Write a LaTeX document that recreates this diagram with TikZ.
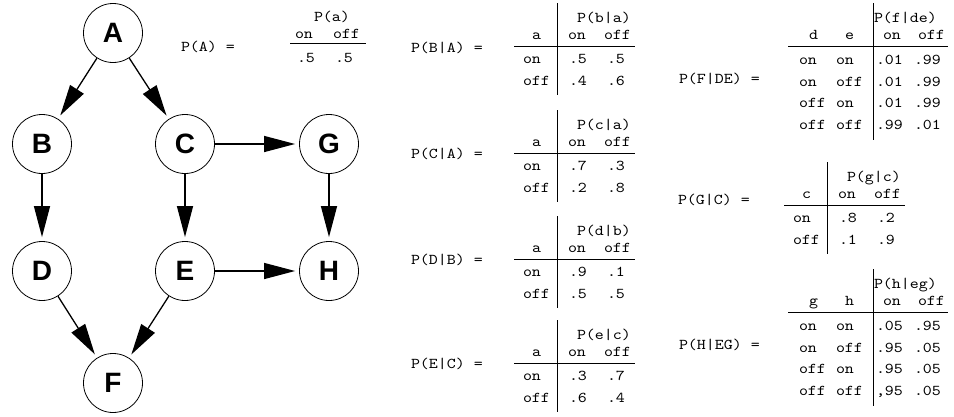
\documentclass[tikz,border=0pt]{standalone}
\usepackage{fontspec}
\setmonofont{lmmono10-regular}[Extension=.otf, FakeStretch=1.14]
\newfontfamily\nodefont{Liberation Sans}
\usetikzlibrary{arrows.meta}
\tikzset{
  bn/.style={circle, draw, line width=0.8pt, minimum size=59pt, inner sep=0pt,
    font=\nodefont\bfseries\fontsize{28}{28}\selectfont},
  edge/.style={line width=1.3pt, -{Triangle[length=31pt,width=16pt]}, shorten >=4pt},
  tt/.style={anchor=base west, inner sep=0pt, outer sep=0pt,
    font=\ttfamily\fontsize{15}{16}\selectfont},
  rulel/.style={line width=1pt}
}
% two-column table frame: id, X, Y, header, parent var
\newcommand\cpttwo[5]{%
  \node[tt] (#1-hd) at (#2+20,#3-24) {#4};
  \node[tt] (#1-pv) at (#2-25,#3-7) {#5};
  \node[tt] (#1-on) at (#2+11,#3-7) {on};
  \node[tt] (#1-off) at (#2+47,#3-7) {off};
  \draw[rulel] (#2-43,#3) -- (#2+78,#3);
  \draw[rulel] (#2,#3-43) -- (#2,#3+49);
}
% row: id, X, Y, dy, label, v1, v2
\newcommand\cptrow[7]{%
  \node[tt] (#1-l#4) at (#2-34,#3+#4) {#5};
  \node[tt] (#1-a#4) at (#2+12,#3+#4) {#6};
  \node[tt] (#1-b#4) at (#2+50,#3+#4) {#7};
}
% four-column table frame: id, X, Y, header, var1, var2
\newcommand\cptfour[6]{%
  \node[tt] (#1-hd) at (#2+1,#3-24) {#4};
  \node[tt] (#1-pv) at (#2-64,#3-7) {#5};
  \node[tt] (#1-pw) at (#2-28,#3-7) {#6};
  \node[tt] (#1-on) at (#2+10,#3-7) {on};
  \node[tt] (#1-off) at (#2+45,#3-7) {off};
  \draw[rulel] (#2-85,#3) -- (#2+75,#3);
  \draw[rulel] (#2,#3-43) -- (#2,#3+94);
}
% row: id, X, Y, dy, c1, c2, v1, v2
\newcommand\cptfrow[8]{%
  \node[tt] (#1-l#4) at (#2-74,#3+#4) {#5};
  \node[tt] (#1-m#4) at (#2-37,#3+#4) {#6};
  \node[tt] (#1-a#4) at (#2+3,#3+#4) {#7};
  \node[tt] (#1-b#4) at (#2+41,#3+#4) {#8};
}
\begin{document}
\begin{tikzpicture}[x=1pt,y=-1pt]
\useasboundingbox (0,0) rectangle (954,416);
% network
\node[bn] (A) at (113,33) {A};
\node[bn] (B) at (42,144) {B};
\node[bn] (C) at (185,144) {C};
\node[bn] (G) at (329,144) {G};
\node[bn] (D) at (42,271) {D};
\node[bn] (E) at (185,271) {E};
\node[bn] (H) at (329,271) {H};
\node[bn] (F) at (113,383) {F};
\draw[edge] (A) -- (B);
\draw[edge] (A) -- (C);
\draw[edge] (C) -- (G);
\draw[edge] (B) -- (D);
\draw[edge] (C) -- (E);
\draw[edge] (G) -- (H);
\draw[edge] (E) -- (H);
\draw[edge] (D) -- (F);
\draw[edge] (E) -- (F);
% P(A)
\node[tt] (pA-lab) at (181,51) {P(A) =};
\node[tt] (pA-hd) at (314,21) {P(a)};
\node[tt] (pA-on) at (295,38) {on};
\node[tt] (pA-off) at (333,38) {off};
\draw[rulel] (290,43) -- (366,43);
\node[tt] (pA-a) at (297,62) {.5};
\node[tt] (pA-b) at (335,62) {.5};
% P(B|A)
\node[tt] (pB-lab) at (411,52) {P(B|A) =};
\cpttwo{pB}{557}{46}{P(b|a)}{a}
\cptrow{pB}{557}{46}{17}{on}{.5}{.5}
\cptrow{pB}{557}{46}{39}{off}{.4}{.6}
% P(C|A)
\node[tt] (pC-lab) at (411,158) {P(C|A) =};
\cpttwo{pC}{557}{153}{P(c|a)}{a}
\cptrow{pC}{557}{153}{17}{on}{.7}{.3}
\cptrow{pC}{557}{153}{39}{off}{.2}{.8}
% P(D|B)
\node[tt] (pD-lab) at (411,264) {P(D|B) =};
\cpttwo{pD}{557}{259}{P(d|b)}{a}
\cptrow{pD}{557}{259}{17}{on}{.9}{.1}
\cptrow{pD}{557}{259}{39}{off}{.5}{.5}
% P(E|C)
\node[tt] (pE-lab) at (411,368) {P(E|C) =};
\cpttwo{pE}{557}{363}{P(e|c)}{a}
\cptrow{pE}{557}{363}{17}{on}{.3}{.7}
\cptrow{pE}{557}{363}{39}{off}{.6}{.4}
% P(F|DE)
\node[tt] (pF-lab) at (679,83) {P(F|DE) =};
\cptfour{pF}{873}{46}{P(f|de)}{d}{e}
\cptfrow{pF}{873}{46}{18}{on}{on}{.01}{.99}
\cptfrow{pF}{873}{46}{40}{on}{off}{.01}{.99}
\cptfrow{pF}{873}{46}{61}{off}{on}{.01}{.99}
\cptfrow{pF}{873}{46}{83}{off}{off}{.99}{.01}
% P(G|C)
\node[tt] (pG-lab) at (678,204) {P(G|C) =};
\cpttwo{pG}{827}{205}{P(g|c)}{c}
\cptrow{pG}{827}{205}{17}{on}{.8}{.2}
\cptrow{pG}{827}{205}{39}{off}{.1}{.9}
% P(H|EG)
\node[tt] (pH-lab) at (679,349) {P(H|EG) =};
\cptfour{pH}{873}{312}{P(h|eg)}{g}{h}
\cptfrow{pH}{873}{312}{18}{on}{on}{.05}{.95}
\cptfrow{pH}{873}{312}{40}{on}{off}{.95}{.05}
\cptfrow{pH}{873}{312}{61}{off}{on}{.95}{.05}
\cptfrow{pH}{873}{312}{83}{off}{off}{,95}{.05}
\end{tikzpicture}
\end{document}
